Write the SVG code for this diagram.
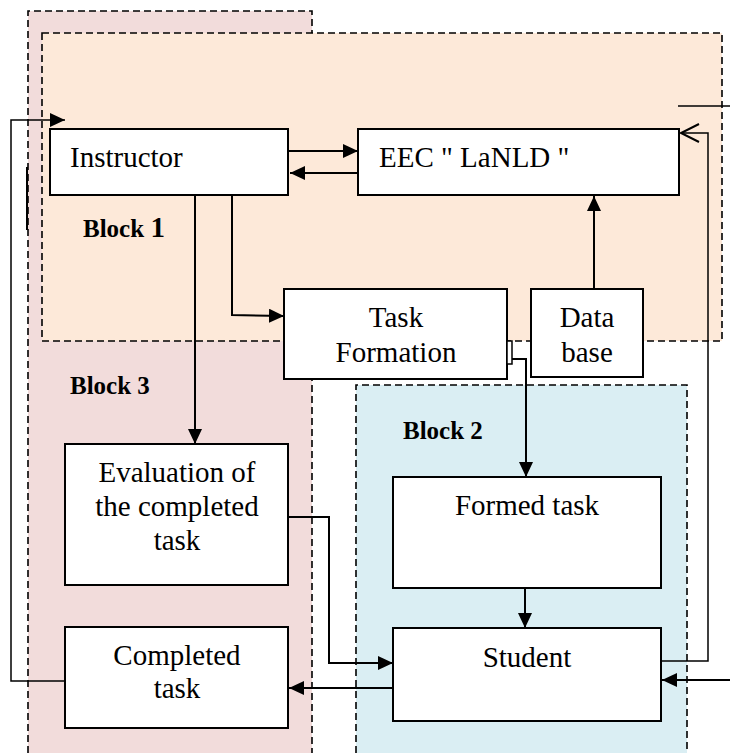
<svg xmlns="http://www.w3.org/2000/svg" width="730" height="753" viewBox="0 0 730 753">
<defs>
<marker id="ah" markerUnits="userSpaceOnUse" markerWidth="16" markerHeight="14" refX="15" refY="7" orient="auto">
<path d="M0,0 L15,7 L0,14 z" fill="#000"/>
</marker>
<marker id="oh" markerUnits="userSpaceOnUse" markerWidth="22" markerHeight="22" refX="19" refY="11" orient="auto">
<path d="M1,2 L19,11 L1,20" fill="none" stroke="#000" stroke-width="2"/>
</marker>
<style>
.box{fill:#fff;stroke:#000;stroke-width:2}
.dash{fill:none;stroke:#000;stroke-width:1.6;stroke-dasharray:7,4}
.t{font-family:"Liberation Serif","Times New Roman",serif;font-size:29px;fill:#000}
.c{text-anchor:middle}
.b{font-family:"Liberation Serif","Times New Roman",serif;font-size:25px;font-weight:bold;fill:#000}
.ln{fill:none;stroke:#000;stroke-width:2}
.thin{fill:none;stroke:#000;stroke-width:1.5}
</style>
</defs>
<!-- Block regions -->
<g id="block3">
<rect x="28" y="11" width="284" height="742" fill="#F2DCDB"/>
<path class="dash" d="M28,753 L28,11 L312,11 L312,33 M312,341 L312,753"/>
</g>
<g id="block1">
<rect x="42" y="33" width="680" height="308" fill="#FDE9D9"/>
<rect class="dash" x="42" y="33" width="680" height="308"/>
</g>
<g id="block2">
<rect x="356" y="385" width="331" height="368" fill="#DAEEF3"/>
<path class="dash" d="M356,753 L356,385 L687,385 L687,753"/>
</g>
<text class="b" x="83" y="237">Block <tspan font-size="29">1</tspan></text>
<text class="b" x="70" y="394">Block 3</text>
<text class="b" x="403" y="439">Block 2</text>
<!-- connectors -->
<g id="connectors">
<line class="ln" x1="289" y1="151" x2="358" y2="151" marker-end="url(#ah)"/>
<line class="ln" x1="358" y1="173" x2="290" y2="173" marker-end="url(#ah)"/>
<line class="ln" x1="195" y1="195" x2="195" y2="444" marker-end="url(#ah)"/>
<polyline class="ln" points="232,195 232,315 284,316" marker-end="url(#ah)"/>
<line class="ln" x1="594" y1="289" x2="594" y2="196" marker-end="url(#ah)"/>
<polyline class="ln" points="512,359 526,359 526,477" marker-end="url(#ah)"/>
<line class="ln" x1="525" y1="588" x2="525" y2="628" marker-end="url(#ah)"/>
<polyline class="ln" points="288,517 329,517 329,663 393,663" marker-end="url(#ah)"/>
<line class="ln" x1="393" y1="688" x2="289" y2="688" marker-end="url(#ah)"/>
<polyline class="thin" points="65,681 11,681 11,120 65,120" marker-end="url(#ah)"/>
<polyline class="thin" points="661,661 708,661 708,133 681,133" marker-end="url(#oh)"/>
<line class="ln" x1="730" y1="680" x2="662" y2="680" marker-end="url(#ah)"/>
<line class="thin" x1="678" y1="106" x2="730" y2="106"/>
<line class="ln" x1="27" y1="167" x2="27" y2="230"/>
</g>
<!-- nodes -->
<g id="instructor">
<rect class="box" x="50" y="129" width="238" height="66"/>
<text class="t" x="70" y="167">Instructor</text>
</g>
<g id="eec">
<rect class="box" x="358" y="129" width="321" height="66"/>
<text class="t" x="379" y="167">EEC " LaNLD "</text>
</g>
<g id="task-formation">
<rect class="box" x="284" y="289" width="223" height="90"/>
<rect x="507" y="341" width="5" height="23" fill="#fff" stroke="#000" stroke-width="1.5"/>
<text class="t c" x="396" y="327">Task</text>
<text class="t c" x="396" y="362">Formation</text>
</g>
<g id="database">
<rect class="box" x="531" y="289" width="112" height="88"/>
<text class="t c" x="587" y="327">Data</text>
<text class="t c" x="587" y="362">base</text>
</g>
<g id="evaluation">
<rect class="box" x="65" y="444" width="223" height="141"/>
<text class="t c" x="177" y="482">Evaluation of</text>
<text class="t c" x="177" y="516">the completed</text>
<text class="t c" x="177" y="550">task</text>
</g>
<g id="completed">
<rect class="box" x="65" y="627" width="223" height="101"/>
<text class="t c" x="177" y="665">Completed</text>
<text class="t c" x="177" y="698">task</text>
</g>
<g id="formed">
<rect class="box" x="393" y="477" width="268" height="111"/>
<text class="t c" x="527" y="515">Formed task</text>
</g>
<g id="student">
<rect class="box" x="393" y="628" width="268" height="93"/>
<text class="t c" x="527" y="667">Student</text>
</g>
</svg>
